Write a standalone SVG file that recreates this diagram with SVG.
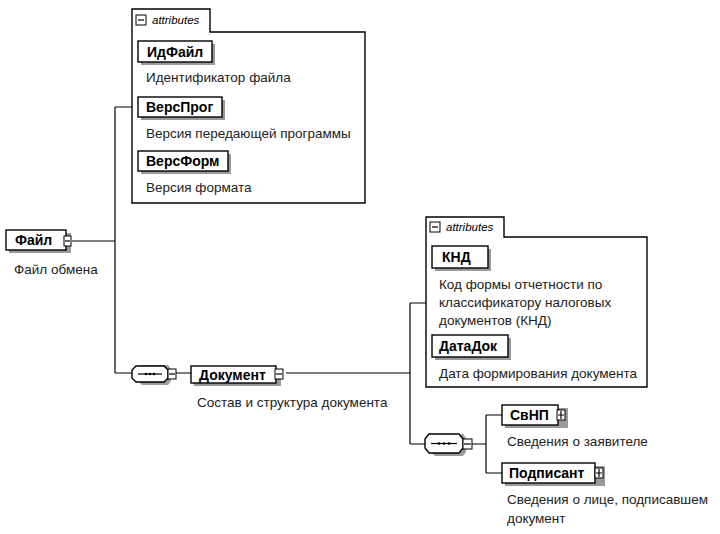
<svg xmlns="http://www.w3.org/2000/svg" width="720" height="534" viewBox="0 0 720 534">
<style>
.t{font-family:"Liberation Sans",Arial,sans-serif;font-size:13.5px;fill:#222}
.b{font-family:"Liberation Sans",Arial,sans-serif;font-size:14px;font-weight:bold;fill:#000}
.i{font-family:"Liberation Sans",Arial,sans-serif;font-size:11.5px;font-style:italic;fill:#000}
.box{fill:#fff;stroke:#000;stroke-width:1.4}
.sh{fill:#9a9a9a}
.ln{fill:none;stroke:#000;stroke-width:1.2}
.ic{fill:#fff;stroke:#000;stroke-width:1}
</style>
<rect width="720" height="534" fill="#fff"/>
<g id="connectors">
<path class="ln" d="M72,241 H115 M115,107 V373 M115,107 H132 M115,373 H132 M176,373 H191 M286,373 H410 M410,303 V444 M410,303 H426 M410,444 H425 M472,444 H486 M486,415 V473 M486,415 H502 M486,473 H502"/>
</g>
<g id="attrs1">
<path class="box" d="M132,203 V9 H210 V32 H365 V203 Z"/>
<rect class="ic" x="136" y="15" width="10" height="10"/><path class="ln" d="M138,20 H144"/>
<text class="i" x="152" y="24">attributes</text>
</g>
<g id="IdFile">
<rect class="sh" x="141" y="44" width="74" height="21"/>
<rect class="box" x="138" y="41" width="74" height="21"/>
<text class="b" x="147" y="57">ИдФайл</text>
<text class="t" x="146" y="82">Идентификатор файла</text>
</g>
<g id="VersProg">
<rect class="sh" x="141" y="100" width="84" height="20"/>
<rect class="box" x="138" y="97" width="84" height="20"/>
<text class="b" x="146" y="112">ВерсПрог</text>
<text class="t" x="146" y="138">Версия передающей программы</text>
</g>
<g id="VersForm">
<rect class="sh" x="141" y="154" width="90" height="20"/>
<rect class="box" x="138" y="151" width="90" height="20"/>
<text class="b" x="146" y="166">ВерсФорм</text>
<text class="t" x="146" y="192">Версия формата</text>
</g>
<g id="File">
<rect class="sh" x="9" y="233" width="62" height="20"/>
<rect class="box" x="6" y="230" width="60" height="20"/>
<rect class="ic" x="64" y="236" width="7" height="10"/><path class="ln" d="M65,241 H70"/>
<text class="b" x="15" y="245">Файл</text>
<text class="t" x="14" y="274">Файл обмена</text>
</g>
<g id="seq1">
<path class="sh" d="M138,369 L142,365 H168 L171,369 V381 L168,385 H142 L138,381 Z"/>
<path class="box" d="M132,370 L136,366 H164 L168,370 V378 L164,382 H136 L132,378 Z"/>
<path class="ln" d="M138,374 H162"/>
<circle cx="146" cy="374" r="1.3"/><circle cx="150" cy="374" r="1.3"/><circle cx="154" cy="374" r="1.3"/>
<rect class="ic" x="168" y="369" width="8" height="10"/><path class="ln" d="M169,374 H175"/>
</g>
<g id="Document">
<rect class="sh" x="194" y="369" width="87" height="17"/>
<rect class="box" x="191" y="366" width="85" height="17"/>
<rect class="ic" x="275" y="369" width="8" height="10"/><path class="ln" d="M276,374 H282"/>
<text class="b" x="199" y="380">Документ</text>
<text class="t" x="197" y="407">Состав и структура документа</text>
</g>
<g id="attrs2">
<path class="box" d="M426,387 V217 H504 V237 H647 V387 Z"/>
<rect class="ic" x="430" y="222" width="10" height="10"/><path class="ln" d="M432,227 H438"/>
<text class="i" x="446" y="231">attributes</text>
</g>
<g id="KND">
<rect class="sh" x="435" y="249" width="56" height="22"/>
<rect class="box" x="432" y="246" width="56" height="22"/>
<text class="b" x="442" y="262">КНД</text>
<text class="t" x="439" y="289">Код формы отчетности по</text>
<text class="t" x="439" y="307">классификатору налоговых</text>
<text class="t" x="439" y="325">документов (КНД)</text>
</g>
<g id="DataDok">
<rect class="sh" x="435" y="338" width="76" height="22"/>
<rect class="box" x="432" y="335" width="76" height="22"/>
<text class="b" x="439" y="351">ДатаДок</text>
<text class="t" x="439" y="378">Дата формирования документа</text>
</g>
<g id="seq2">
<path class="sh" d="M431,438 L435,434 H463 L466,438 V452 L463,456 H435 L431,452 Z"/>
<path class="box" d="M425,439 L429,434 H459 L463,439 V448 L459,453 H429 L425,448 Z"/>
<path class="ln" d="M431,443.5 H457"/>
<circle cx="439" cy="443.5" r="1.3"/><circle cx="444" cy="443.5" r="1.3"/><circle cx="449" cy="443.5" r="1.3"/>
<rect class="ic" x="463" y="439" width="9" height="10"/><path class="ln" d="M464,444 H471"/>
</g>
<g id="SvNP">
<rect class="sh" x="505" y="408" width="63" height="20"/>
<rect class="box" x="502" y="405" width="56" height="20"/>
<rect class="ic" x="557" y="410" width="8" height="10"/><path class="ln" d="M558,415 H564 M561,411 V419"/>
<text class="b" x="510" y="420">СвНП</text>
<text class="t" x="507" y="446">Сведения о заявителе</text>
</g>
<g id="Podpisant">
<rect class="sh" x="505" y="466" width="100" height="20"/>
<rect class="box" x="502" y="463" width="93" height="20"/>
<rect class="ic" x="595" y="468" width="8" height="10"/><path class="ln" d="M596,473 H602 M599,469 V477"/>
<text class="b" x="509" y="478">Подписант</text>
<text class="t" x="507" y="504">Сведения о лице, подписавшем</text>
<text class="t" x="507" y="523">документ</text>
</g>
</svg>
